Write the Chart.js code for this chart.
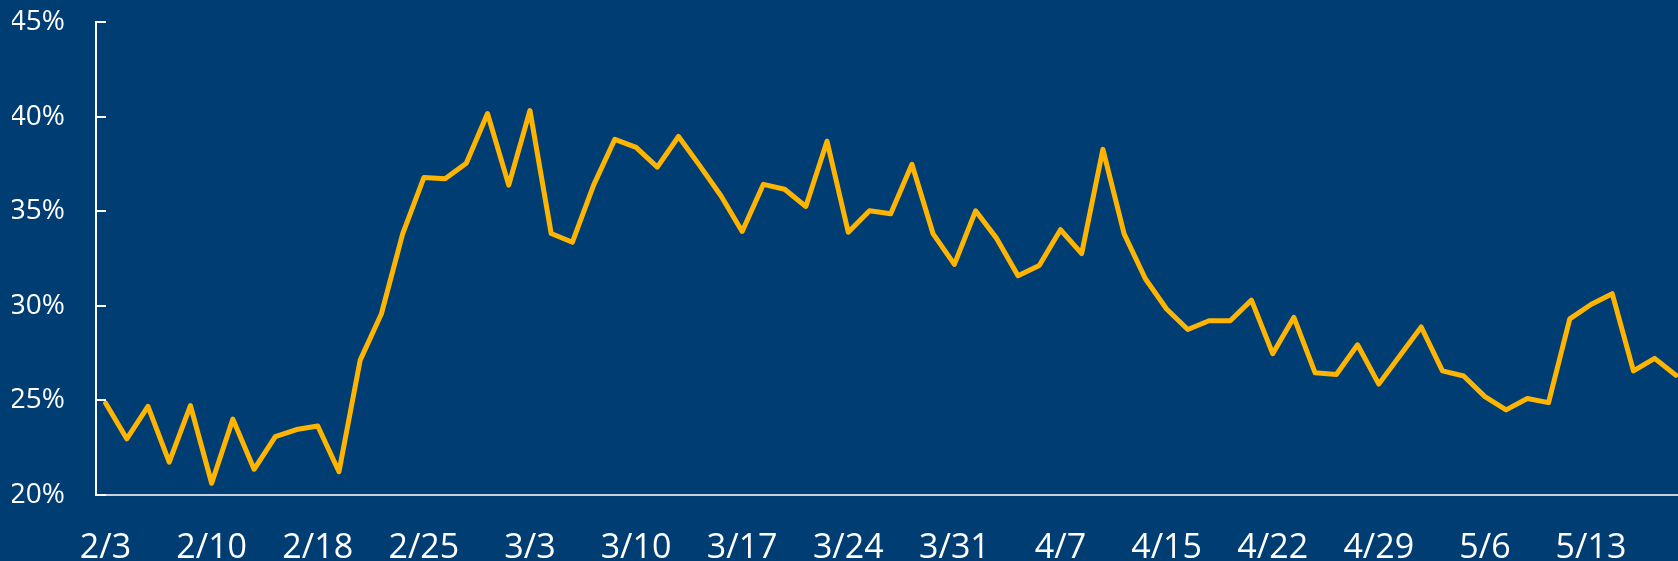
<!DOCTYPE html>
<html>
<head>
<meta charset="utf-8">
<script src="https://cdn.jsdelivr.net/npm/chart.js@4/dist/chart.umd.min.js"></script>
<style>
  html, body { margin: 0; padding: 0; background: #003d73; overflow: hidden; }
  #wrap { position: absolute; left: 0; top: 0; width: 1678px; height: 561px; }
</style>
</head>
<body>
<div id="wrap"><canvas id="lineChart"></canvas></div>
<script>
const dates = [
  "2/3", "2/4", "2/5", "2/6", "2/7",
  "2/10", "2/11", "2/12", "2/13", "2/14",
  "2/18", "2/19", "2/20", "2/21", "2/24",
  "2/25", "2/26", "2/27", "2/28", "3/2",
  "3/3", "3/4", "3/5", "3/6", "3/9",
  "3/10", "3/11", "3/12", "3/13", "3/16",
  "3/17", "3/18", "3/19", "3/20", "3/23",
  "3/24", "3/25", "3/26", "3/27", "3/30",
  "3/31", "4/1", "4/2", "4/3", "4/6",
  "4/7", "4/8", "4/9", "4/13", "4/14",
  "4/15", "4/16", "4/17", "4/20", "4/21",
  "4/22", "4/23", "4/24", "4/27", "4/28",
  "4/29", "4/30", "5/1", "5/4", "5/5",
  "5/6", "5/7", "5/8", "5/11", "5/12",
  "5/13", "5/14", "5/15", "5/18", "5/19",
];

const shares = [
  24.86, 22.97, 24.69, 21.74, 24.73,
  20.62, 24.01, 21.36, 23.08, 23.46,
  23.65, 21.23, 27.13, 29.58, 33.8,
  36.78, 36.72, 37.54, 40.16, 36.38,
  40.32, 33.82, 33.36, 36.38, 38.8,
  38.37, 37.33, 38.95, 37.41, 35.82,
  33.93, 36.42, 36.16, 35.25, 38.7,
  33.89, 35.02, 34.87, 37.48, 33.8,
  32.19, 35.02, 33.55, 31.59, 32.13,
  34.02, 32.76, 38.27, 33.8, 31.43,
  29.83, 28.75, 29.21, 29.21, 30.3,
  27.47, 29.39, 26.46, 26.37, 27.94,
  25.86, 27.37, 28.88, 26.56, 26.29,
  25.2, 24.5, 25.1, 24.88, 29.31,
  30.07, 30.64, 26.56, 27.22, 26.33,
];

// one x label every 5 trading days
const labelEvery = 5;
const yTicks = [20, 25, 30, 35, 40, 45];

const points = shares.map((v, i) => ({ x: i, y: v }));

const canvas = document.getElementById("lineChart");
const lineChart = new Chart(canvas, {
  type: "line",
  data: {
    datasets: [
      {
        label: "Share",
        data: points,
        borderColor: "#ffb500",
        borderWidth: 5,
        borderJoinStyle: "round",
        borderCapStyle: "round",
        pointRadius: 0,
        tension: 0,
        fill: false,
      },
    ],
  },
  options: {
    responsive: true,
    maintainAspectRatio: false,
    animation: false,
    layout: {
      padding: { left: 12, right: 0, top: 22, bottom: 0 },
    },
    plugins: {
      legend: { display: false },
      tooltip: { enabled: false },
    },
    scales: {
      x: {
        type: "linear",
        min: -0.45,
        max: 74.1,
        afterBuildTicks: (axis) => {
          axis.ticks = dates
            .map((d, i) => i)
            .filter((i) => i % labelEvery === 0)
            .map((i) => ({ value: i }));
        },
        afterFit: (axis) => {
          axis.height = 66;
          axis.paddingLeft = 0;
          axis.paddingRight = 0;
        },
        ticks: {
          color: "#ffffff",
          padding: 33,
          maxRotation: 0,
          autoSkip: false,
          font: { family: "'Open Sans'", size: 34 },
          callback: (v) => dates[v],
        },
        grid: { display: false, drawTicks: false },
        border: { display: true, color: "#c9d2dd", width: 2 },
      },
      y: {
        min: 20,
        max: 45,
        afterBuildTicks: (axis) => {
          axis.ticks = yTicks.map((v) => ({ value: v }));
        },
        afterFit: (axis) => {
          axis.width = 84;
          axis.paddingTop = 0;
          axis.paddingBottom = 0;
        },
        ticks: {
          color: "#ffffff",
          padding: 31,
          font: { family: "'Open Sans'", size: 28 },
          callback: (v) => v + "%",
        },
        grid: { display: false, drawTicks: false },
        border: { display: true, color: "#ffffff", width: 2 },
      },
    },
  },
  plugins: [
    {
      id: "inner_tick_marks",
      afterDraw: (chart) => {
        const { ctx, chartArea } = chart;
        const yScale = chart.scales.y;
        ctx.save();
        ctx.strokeStyle = "#ffffff";
        ctx.lineWidth = 2;
        yScale.ticks.forEach((t) => {
          const py = Math.round(yScale.getPixelForValue(t.value));
          ctx.beginPath();
          ctx.moveTo(chartArea.left, py);
          ctx.lineTo(chartArea.left + 10, py);
          ctx.stroke();
        });
        ctx.restore();
      },
    },
  ],
});
</script>
</body>
</html>
